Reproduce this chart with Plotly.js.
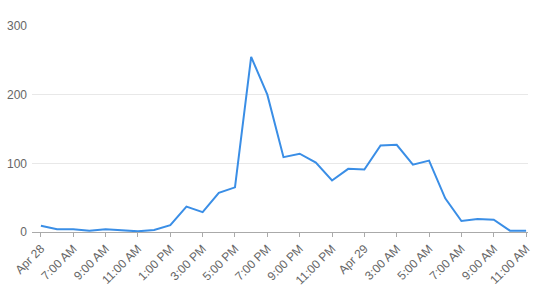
<!DOCTYPE html>
<html>
<head>
<meta charset="utf-8">
<script src="https://cdn.plot.ly/plotly-3.0.1.min.js"></script>
<style>html,body{margin:0;padding:0;background:#fff;}#chart{width:538px;height:298px;}</style>
</head>
<body>
<div id="chart"></div>
<script>
// hourly timestamps, Apr 28 05:00 .. Apr 29 11:00
const times = [
  "2024-04-28 05:00","2024-04-28 06:00","2024-04-28 07:00","2024-04-28 08:00","2024-04-28 09:00",
  "2024-04-28 10:00","2024-04-28 11:00","2024-04-28 12:00","2024-04-28 13:00","2024-04-28 14:00",
  "2024-04-28 15:00","2024-04-28 16:00","2024-04-28 17:00","2024-04-28 18:00","2024-04-28 19:00",
  "2024-04-28 20:00","2024-04-28 21:00","2024-04-28 22:00","2024-04-28 23:00","2024-04-29 00:00",
  "2024-04-29 01:00","2024-04-29 02:00","2024-04-29 03:00","2024-04-29 04:00","2024-04-29 05:00",
  "2024-04-29 06:00","2024-04-29 07:00","2024-04-29 08:00","2024-04-29 09:00","2024-04-29 10:00",
  "2024-04-29 11:00"
];
const values = [
  9, 4, 4, 2, 4, 3, 1, 3, 10, 37,
  29, 57, 65, 255, 200, 109, 114, 101, 75, 92,
  91, 126, 127, 98, 104, 49, 16, 19, 18, 2,
  2
];
const tickVals = [
  "2024-04-28 05:00","2024-04-28 07:00","2024-04-28 09:00","2024-04-28 11:00","2024-04-28 13:00",
  "2024-04-28 15:00","2024-04-28 17:00","2024-04-28 19:00","2024-04-28 21:00","2024-04-28 23:00",
  "2024-04-29 01:00","2024-04-29 03:00","2024-04-29 05:00","2024-04-29 07:00","2024-04-29 09:00",
  "2024-04-29 11:00"
];
const tickText = [
  "Apr 28","7:00 AM","9:00 AM","11:00 AM","1:00 PM","3:00 PM","5:00 PM","7:00 PM",
  "9:00 PM","11:00 PM","Apr 29","3:00 AM","5:00 AM","7:00 AM","9:00 AM","11:00 AM"
];
const yTicks = [0, 100, 200, 300];

Plotly.newPlot("chart", [{
  x: times, y: values, type: "scatter", mode: "lines",
  line: {color: "#3a8ee6", width: 2},
  hoverinfo: "x+y"
}], {
  width: 538, height: 298,
  margin: {l: 32, r: 10, t: 26, b: 66},
  paper_bgcolor: "#fff", plot_bgcolor: "#fff",
  font: {family: "Liberation Sans, Arial, sans-serif", size: 12, color: "#666"},
  showlegend: false,
  xaxis: {
    type: "date",
    range: ["2024-04-28 04:27", "2024-04-29 11:07"],
    tickvals: tickVals, ticktext: tickText,
    tickangle: -45, showgrid: false, zeroline: false,
    showline: true, linecolor: "#aaa", linewidth: 1,
    ticks: "outside", ticklen: 4, tickcolor: "#aaa",
    tickfont: {size: 12, color: "#666"}
  },
  yaxis: {
    range: [0, 300], tickvals: yTicks, ticktext: yTicks.map(String),
    showgrid: true, gridcolor: "#e8e8e8", zeroline: false,
    showline: false, ticks: "", ticklen: 0, ticklabelstandoff: 4,
    tickfont: {size: 12, color: "#666"}
  }
}, {displayModeBar: false, staticPlot: true});
</script>
</body>
</html>
